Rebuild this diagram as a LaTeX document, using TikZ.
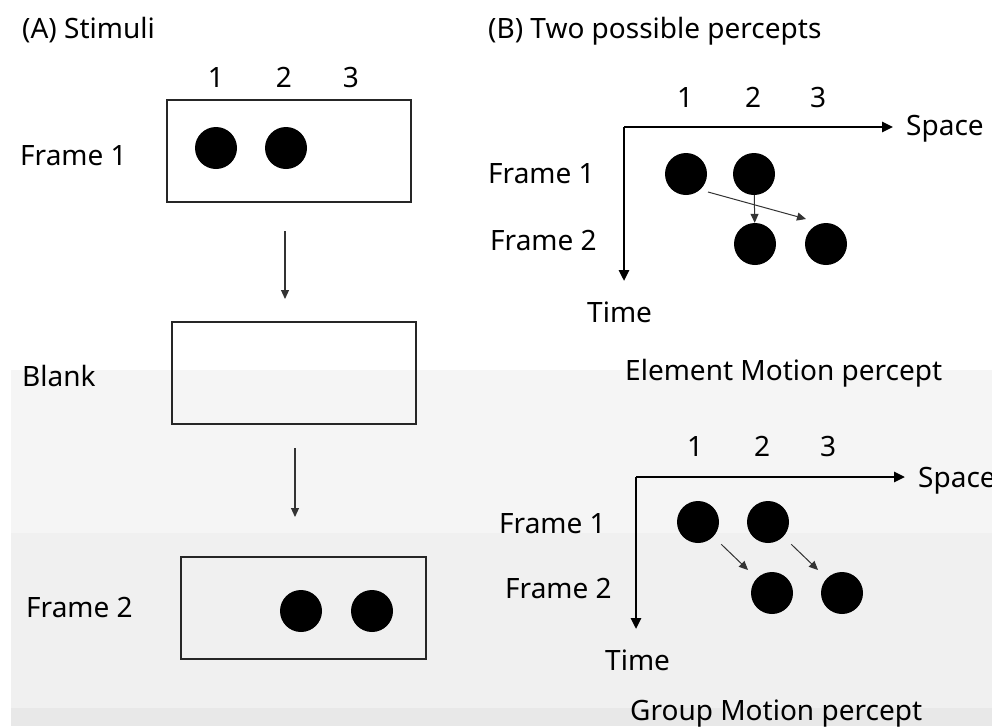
\documentclass[tikz,border=0pt]{standalone}
\usepackage{fontspec}
\setmainfont{Noto Sans}
\usetikzlibrary{arrows.meta}
\begin{document}
\begin{tikzpicture}[x=1pt,y=-1pt,
  lbl/.style={inner sep=0pt,font=\fontsize{28}{30}\selectfont,anchor=base west},
  num/.style={inner sep=0pt,font=\fontsize{28}{30}\selectfont,anchor=base},
  frm/.style={draw=black!85,line width=1.8pt},
  dot/.style={circle,fill=black,minimum size=42pt,inner sep=0pt},
  flow/.style={draw=black!80,line width=1.1pt,-{Triangle[length=9pt,width=8pt]}},
  axis/.style={draw=black,line width=2.6pt,-{Triangle[length=11pt,width=10pt]}},
  mv/.style={draw=black!80,line width=1pt,-{Triangle[length=9pt,width=8pt]}}]
\useasboundingbox (0,0) rectangle (992,726);
% background bands
\fill[white] (0,0) rectangle (992,726);
\fill[black!4] (11,370) rectangle (992,533);
\fill[black!6] (11,533) rectangle (992,708);
\fill[black!9] (11,708) rectangle (992,726);
% ---------- (A) Stimuli ----------
\node[lbl] (ta) at (22,38) {(A) Stimuli};
\node[num] (n1) at (216,87) {1};
\node[num] (n2) at (284,87) {2};
\node[num] (n3) at (351,87) {3};
\node[frm,minimum width=244pt,minimum height=102pt,inner sep=0pt] (f1) at (289,151) {};
\node[dot] (a1) at (216,148) {};
\node[dot] (a2) at (286,148) {};
\node[lbl] (lf1) at (20,165) {Frame 1};
\node[frm,minimum width=244pt,minimum height=102pt,inner sep=0pt] (bk) at (294,373) {};
\node[lbl] (lbk) at (22,386) {Blank};
\node[frm,minimum width=245pt,minimum height=102pt,inner sep=0pt] (f2) at (303.5,608) {};
\node[dot] (a3) at (301,611) {};
\node[dot] (a4) at (372,611) {};
\node[lbl] (lf2) at (26,617) {Frame 2};
\coordinate (ar1s) at (285,231);
\coordinate (ar1e) at (285,299);
\coordinate (ar2s) at (295,448);
\coordinate (ar2e) at (295,517);
\draw[flow] (ar1s) -- (ar1e);
\draw[flow] (ar2s) -- (ar2e);
% ---------- (B) Two possible percepts ----------
\node[lbl] (tb) at (488,38) {(B) Two possible percepts};
% Element motion
\node[num] (e1) at (685,107) {1};
\node[num] (e2) at (753,107) {2};
\node[num] (e3) at (818,107) {3};
\coordinate (eo) at (624,127);
\coordinate (ex) at (893,127);
\coordinate (ey) at (624,281);
\draw[axis] (eo) -- (ex);
\draw[axis] (eo) -- (ey);
\node[lbl] (esp) at (906,135) {Space};
\node[lbl] (etm) at (587,322) {Time};
\node[lbl] (ef1) at (488,183) {Frame 1};
\node[lbl] (ef2) at (490,250) {Frame 2};
\node[dot] (d1) at (686,174) {};
\node[dot] (d2) at (754,174) {};
\node[dot] (d3) at (755,244) {};
\node[dot] (d4) at (826,244) {};
\coordinate (es) at (708,192);
\coordinate (ee) at (806,219);
\draw[mv] (es) -- (ee);
\draw[mv] (d2) -- (d3);
\node[lbl] (ecap) at (625,380) {Element Motion percept};
% Group motion
\node[num] (g1n) at (695,456) {1};
\node[num] (g2n) at (762,456) {2};
\node[num] (g3n) at (828,456) {3};
\coordinate (go) at (636,477);
\coordinate (gx) at (905,477);
\coordinate (gy) at (636,629);
\draw[axis] (go) -- (gx);
\draw[axis] (go) -- (gy);
\node[lbl] (gsp) at (918,487) {Space};
\node[lbl] (gtm) at (605,670) {Time};
\node[lbl] (gf1) at (499,533) {Frame 1};
\node[lbl] (gf2) at (505,598) {Frame 2};
\node[dot] (g1) at (698,522) {};
\node[dot] (g2) at (768,522) {};
\node[dot] (g3) at (772,593) {};
\node[dot] (g4) at (842,593) {};
\draw[mv,shorten <=11pt,shorten >=12pt] (g1) -- (g3);
\draw[mv,shorten <=11pt,shorten >=12pt] (g2) -- (g4);
\node[lbl] (gcap) at (630,720) {Group Motion percept};
\end{tikzpicture}
\end{document}
